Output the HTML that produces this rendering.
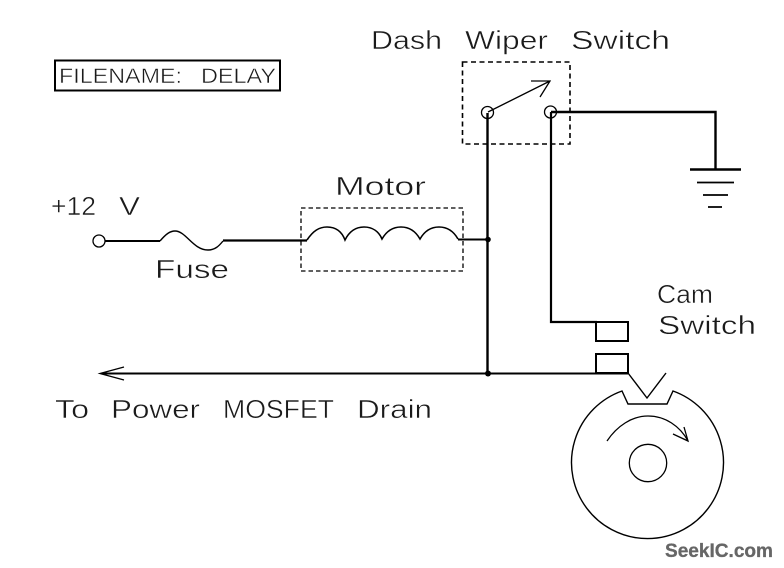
<!DOCTYPE html>
<html><head><meta charset="utf-8"><style>
html,body{margin:0;padding:0;background:#fff}
svg{display:block}
text{font-family:"Liberation Sans",sans-serif;fill:#1a1a1a;font-size:26px;stroke:#fff;stroke-width:.45px}
</style></head><body>
<svg width="784" height="568" viewBox="0 0 784 568" xmlns="http://www.w3.org/2000/svg" fill="none" stroke="#000">
<!-- labels -->
<g>
<text x="371" y="49" textLength="71" lengthAdjust="spacingAndGlyphs">Dash</text>
<text x="465" y="49" textLength="83" lengthAdjust="spacingAndGlyphs">Wiper</text>
<text x="571" y="49" textLength="99" lengthAdjust="spacingAndGlyphs">Switch</text>
<text x="59" y="83" textLength="123" lengthAdjust="spacingAndGlyphs" style="font-size:21px">FILENAME:</text>
<text x="201" y="83" textLength="75" lengthAdjust="spacingAndGlyphs" style="font-size:21px">DELAY</text>
<text x="51" y="215" textLength="45" lengthAdjust="spacingAndGlyphs">+12</text>
<text x="119" y="215" textLength="21" lengthAdjust="spacingAndGlyphs">V</text>
<text x="335" y="195" textLength="91" lengthAdjust="spacingAndGlyphs">Motor</text>
<text x="155" y="278" textLength="74" lengthAdjust="spacingAndGlyphs">Fuse</text>
<text x="657" y="303" textLength="56" lengthAdjust="spacingAndGlyphs">Cam</text>
<text x="658" y="334" textLength="98" lengthAdjust="spacingAndGlyphs">Switch</text>
<text x="55" y="418" textLength="34" lengthAdjust="spacingAndGlyphs">To</text>
<text x="111" y="418" textLength="89" lengthAdjust="spacingAndGlyphs">Power</text>
<text x="223" y="418" textLength="111" lengthAdjust="spacingAndGlyphs">MOSFET</text>
<text x="357" y="418" textLength="75" lengthAdjust="spacingAndGlyphs">Drain</text>
<text x="665" y="557" textLength="108" lengthAdjust="spacingAndGlyphs" style="font-size:19px;font-weight:bold;fill:#666;stroke:#666;stroke-width:.3px">SeekIC.com</text>
</g>
<!-- filename box -->
<rect x="55" y="60.5" width="225" height="30" stroke-width="2"/>
<!-- dashed boxes -->
<rect x="462.5" y="62" width="107.5" height="82" stroke-width="1.6" stroke-dasharray="5 3.5"/>
<rect x="301" y="208" width="162" height="63" stroke-width="1.3" stroke-dasharray="4.5 3"/>
<!-- switch -->
<circle cx="487.5" cy="112.5" r="6" stroke-width="1.3"/>
<circle cx="550.5" cy="112" r="6" stroke-width="1.3"/>
<path d="M488 112L550 81M531 81L550 81L540 97" stroke-width="1.3"/>
<!-- wires -->
<path d="M487.5 113V374" stroke-width="2.4"/>
<path d="M551 112V322H597" stroke-width="2.2"/>
<path d="M551 112H715.5V169" stroke-width="2.4"/>
<!-- ground -->
<path d="M690 169.5H741" stroke-width="2.4"/>
<path d="M697 182.5H734M703 195H728M708 207H722" stroke-width="1.8"/>
<!-- fuse + motor -->
<circle cx="99" cy="241" r="6" stroke-width="1.3"/>
<path d="M105 241H160" stroke-width="2"/>
<path d="M160 241C166 234 170 231 175 231C186 231 193 250 208 250C215 250 219 246 223 241" stroke-width="1.4"/>
<path d="M223 240.5H307" stroke-width="2.2"/>
<path d="M307 240C313 231 319 227 327 227C336 227 342 232 345 240C349 232 355 227 364 227C373 227 379 232 382 239C386 232 392 227 401 227C410 227 416 232 420 239C424 232 430 227 439 227C448 227 454 232 458 239" stroke-width="1.6"/>
<path d="M458 239.5H488" stroke-width="2"/>
<circle cx="488" cy="239.5" r="2.8" fill="#000" stroke="none"/>
<!-- bottom line and arrow -->
<path d="M102 373.5H628" stroke-width="2"/>
<path d="M124 367L100 373.5L124 380" stroke-width="1.3"/>
<circle cx="488" cy="373.5" r="3" fill="#000" stroke="none"/>
<!-- cam switch -->
<rect x="596" y="322" width="32" height="19" stroke-width="2"/>
<rect x="596" y="354" width="32" height="19" stroke-width="2"/>
<path d="M628 373L647 398L666 373" stroke-width="1.4"/>
<!-- cam -->
<path d="M622 391L628 404H667L673 391A76 76 0 1 1 622 391Z" stroke-width="1.4"/>
<circle cx="648" cy="463" r="18.7" stroke-width="1.3"/>
<path d="M607 441C617 426 632 416 648 416C665 416 680 426 688 441" stroke-width="1.3"/>
<path d="M673 434L688 441L684 427" stroke-width="1.3"/>
</svg>
</body></html>
